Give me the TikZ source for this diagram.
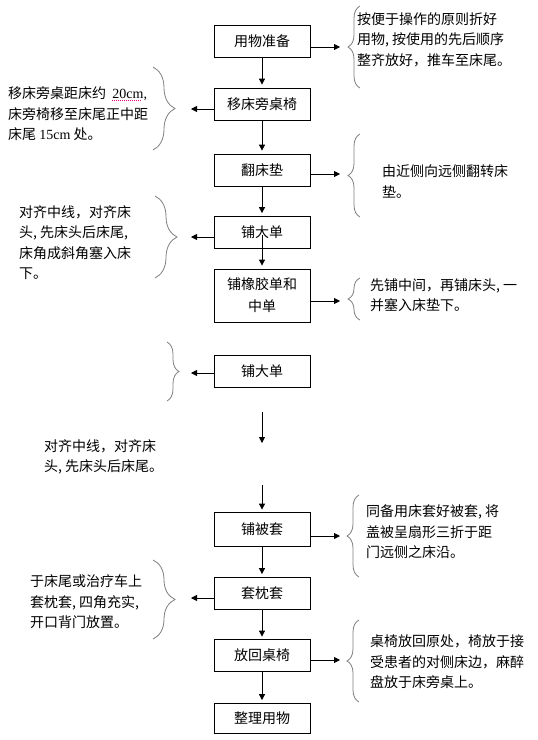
\documentclass[tikz,border=0pt]{standalone}
\usepackage{fontspec}
\setmainfont{Noto Sans CJK SC}
\newfontfamily\lat{Liberation Serif}
\usetikzlibrary{arrows.meta,decorations.pathreplacing}
\newcommand\spellmark[1]{\setbox0\hbox{#1}\rlap{\raisebox{-2.5pt}{\color{magenta}\leaders\hbox{\rule{0.9pt}{0.9pt}\kern1.1pt}\hskip\wd0}}\box0}
\newcommand\hc{\makebox[7pt][l]{,}}
\tikzset{
  stepbox/.style={draw, line width=0.8pt, minimum width=96pt, minimum height=32pt, inner sep=0pt, align=center, font=\fontsize{14}{22}\selectfont},
  note/.style={anchor=west, inner sep=0pt, align=left, font=\fontsize{14}{20.5}\selectfont},
  arr/.style={line width=0.8pt, -{Triangle[length=6pt,width=6pt]}},
  bracel/.style={draw=gray, line width=0.8pt, decorate, decoration={brace, amplitude=22pt}},
  bracer/.style={draw=gray, line width=0.8pt, decorate, decoration={brace, amplitude=12pt}},
}
\begin{document}
\begin{tikzpicture}[x=1pt,y=-1pt]
\useasboundingbox[fill=white] (0,0) rectangle (538,740);
\node[stepbox] (b1) at (262,41) {用物准备};
\node[stepbox] (b2) at (262,104) {移床旁桌椅};
\node[stepbox] (b3) at (262,170) {翻床垫};
\node[stepbox] (b4) at (262,232.5) {铺大单};
\node[stepbox, minimum height=53pt] (b5) at (262,295.5) {铺橡胶单和\\中单};
\node[stepbox] (b6) at (262,371) {铺大单};
\node[stepbox, minimum height=34pt] (b7) at (262,529) {铺被套};
\node[stepbox] (b8) at (262,593) {套枕套};
\node[stepbox] (b9) at (262,655.5) {放回桌椅};
\node[stepbox, minimum height=30pt] (b10) at (262,718) {整理用物};
\coordinate (b4in) at (262,235);
\coordinate (g1) at (262,412);
\coordinate (g2) at (262,443);
\coordinate (g3) at (262,485);
\draw[arr, shorten >=3pt] (b1) -- (b2);
\draw[arr, shorten >=3pt] (b2) -- (b3);
\draw[arr, shorten >=3pt] (b3) -- (b4);
\draw[arr, shorten >=3pt] (b4in) -- (b5);
\draw[arr] (g1) -- (g2);
\draw[arr, shorten >=2pt] (g3) -- (b7);
\draw[arr, shorten >=2.5pt] (b7) -- (b8);
\draw[arr, shorten >=2.5pt] (b8) -- (b9);
\draw[arr, shorten >=2.5pt] (b9) -- (b10);
\coordinate (k1) at (340,47);
\coordinate (k2) at (191,109);
\coordinate (k3) at (340,174);
\coordinate (k4) at (191,237);
\coordinate (k5) at (340,301);
\coordinate (k6) at (191,373);
\coordinate (k7) at (340,536);
\coordinate (k8) at (191,598);
\coordinate (k9) at (340,660);
\draw[arr] (b1.east |- k1) -- (k1);
\draw[arr] (b2.west |- k2) -- (k2);
\draw[arr] (b3.east |- k3) -- (k3);
\draw[arr] (b4.west |- k4) -- (k4);
\draw[arr] (b5.east |- k5) -- (k5);
\draw[arr] (b6.west |- k6) -- (k6);
\draw[arr] (b7.east |- k7) -- (k7);
\draw[arr] (b8.west |- k8) -- (k8);
\draw[arr] (b9.east |- k9) -- (k9);
\draw[bracer] (360,88) -- (360,6);
\draw[bracel] (153,67) -- (153,150);
\draw[bracer] (360,217) -- (360,134);
\draw[bracel] (155,196) -- (155,278);
\draw[bracer] (360,320) -- (360,278);
\draw[bracel, decoration={amplitude=12pt}] (167,342) -- (167,401);
\draw[bracer] (359,577) -- (359,495);
\draw[bracel] (153,560) -- (153,639);
\draw[bracer] (359,702) -- (359,620);
\node[note] (t1) at (357,39.5) {按便于操作的原则折好\\用物\hc 按使用的先后顺序\\整齐放好，推车至床尾。};
\node[note] (t2) at (8,114) {移床旁桌距床约\ \ {\lat\spellmark{20cm},}\\床旁椅移至床尾正中距\\床尾 {\lat 15cm} 处。};
\node[note] (t3) at (382,181.5) {由近侧向远侧翻转床\\垫。};
\node[note] (t4) at (19,242.5) {对齐中线，对齐床\\头\hc 先床头后床尾\hc\\床角成斜角塞入床\\下。};
\node[note] (t5) at (370,295) {先铺中间，再铺床头\hc 一\\并塞入床垫下。};
\node[note] (t6) at (44,457) {对齐中线，对齐床\\头\hc 先床头后床尾。};
\node[note] (t7) at (366,532) {同备用床套好被套\hc 将\\盖被呈扇形三折于距\\门远侧之床沿。};
\node[note] (t8) at (30,602) {于床尾或治疗车上\\套枕套\hc 四角充实\hc\\开口背门放置。};
\node[note] (t9) at (370,662) {桌椅放回原处，椅放于接\\受患者的对侧床边，麻醉\\盘放于床旁桌上。};
\end{tikzpicture}
\end{document}
